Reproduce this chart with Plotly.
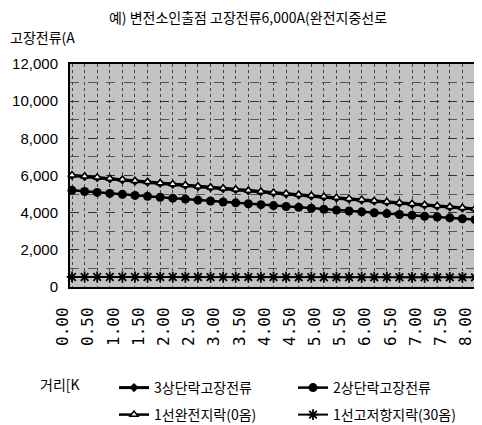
import plotly.graph_objects as go

distance_km = [0.00, 0.25, 0.50, 0.75, 1.00, 1.25, 1.50, 1.75, 2.00, 2.25, 2.50,
               2.75, 3.00, 3.25, 3.50, 3.75, 4.00, 4.25, 4.50, 4.75, 5.00, 5.25,
               5.50, 5.75, 6.00, 6.25, 6.50, 6.75, 7.00, 7.25, 7.50, 7.75, 8.00]

tick_vals = [0.0, 0.5, 1.0, 1.5, 2.0, 2.5, 3.0, 3.5, 4.0, 4.5, 5.0, 5.5, 6.0, 6.5, 7.0, 7.5, 8.0]
tick_text = ["0.00", "0.50", "1.00", "1.50", "2.00", "2.50", "3.00", "3.50", "4.00",
             "4.50", "5.00", "5.50", "6.00", "6.50", "7.00", "7.50", "8.00"]

three_phase = [6000, 5935, 5875, 5815, 5755, 5695, 5635, 5575, 5520, 5460, 5400,
               5345, 5285, 5230, 5170, 5115, 5060, 5000, 4945, 4890, 4835, 4780,
               4725, 4670, 4615, 4560, 4505, 4455, 4400, 4345, 4295, 4240, 4190]

two_phase = [5200, 5140, 5090, 5035, 4985, 4930, 4880, 4830, 4780, 4730, 4675,
             4630, 4575, 4530, 4480, 4430, 4380, 4330, 4285, 4235, 4185, 4140,
             4090, 4045, 3995, 3950, 3900, 3855, 3810, 3765, 3720, 3670, 3630]

slg_solid = [6020, 5960, 5900, 5840, 5780, 5720, 5660, 5600, 5540, 5485, 5425,
             5370, 5310, 5255, 5195, 5140, 5085, 5030, 4975, 4920, 4865, 4810,
             4755, 4700, 4645, 4590, 4535, 4480, 4425, 4370, 4320, 4265, 4215]

slg_30ohm = [540, 540, 539, 538, 538, 537, 536, 536, 535, 534, 534,
             533, 532, 532, 531, 530, 530, 529, 528, 528, 527, 526,
             526, 525, 524, 524, 523, 522, 522, 521, 520, 520, 519]

series_names = ["3상단락고장전류", "2상단락고장전류", "1선완전지락(0옴)", "1선고저항지락(30옴)"]

KFONT = "Noto Sans CJK KR"

fig = go.Figure()

fig.add_trace(go.Scatter(
    x=distance_km, y=three_phase, name=series_names[0], mode="lines+markers",
    line=dict(color="black", width=3),
    marker=dict(symbol="diamond", size=7, color="black"),
    cliponaxis=False, legend="legend"))
fig.add_trace(go.Scatter(
    x=distance_km, y=two_phase, name=series_names[1], mode="lines+markers",
    line=dict(color="black", width=2.5),
    marker=dict(symbol="circle", size=9, color="black"),
    cliponaxis=False, legend="legend"))
fig.add_trace(go.Scatter(
    x=distance_km, y=slg_solid, name=series_names[2], mode="lines+markers",
    line=dict(color="black", width=2.5),
    marker=dict(symbol="triangle-up", size=7, color="white", line=dict(color="black", width=1.5)),
    cliponaxis=False, legend="legend2"))
fig.add_trace(go.Scatter(
    x=distance_km, y=slg_30ohm, name=series_names[3], mode="lines+markers",
    line=dict(color="black", width=2),
    marker=dict(symbol="asterisk-open", size=9, color="black", line=dict(color="black", width=1.8)),
    cliponaxis=False, legend="legend2"))

# The page body adds an 8px margin, so the figure is drawn from (8, 8) of the window.
OFF = 8
FIG_W, FIG_H = 482 - OFF, 425 - OFF
# plot area in figure pixels
PX0, PX1, PY0, PY1 = 70 - OFF, 476 - OFF, 64 - OFF, 287 - OFF


def px_to_paper_x(px):
    return (px - OFF - PX0) / (PX1 - PX0)


def py_to_paper_y(py):
    return (PY1 - (py - OFF)) / (PY1 - PY0)


legend_common = dict(orientation="h", xanchor="left", yanchor="middle",
                     entrywidth=134, entrywidthmode="pixels",
                     font=dict(family=KFONT, size=14, color="black"),
                     bgcolor="rgba(0,0,0,0)", borderwidth=0)

fig.update_layout(
    width=FIG_W, height=FIG_H,
    margin=dict(l=PX0, r=FIG_W - PX1, t=PY0, b=FIG_H - PY1, autoexpand=False),
    paper_bgcolor="white",
    plot_bgcolor="#c2c2c2",
    font=dict(family=KFONT, size=14, color="black"),
    title=dict(text="예) 변전소인출점 고장전류6,000A(완전지중선로",
               x=(248 - OFF) / FIG_W, xanchor="center", xref="container",
               y=1 - (18 - OFF) / FIG_H, yanchor="middle", yref="container",
               font=dict(family=KFONT, size=14, color="black")),
    showlegend=True,
    legend=dict(x=px_to_paper_x(114), y=py_to_paper_y(388), **legend_common),
    legend2=dict(x=px_to_paper_x(114), y=py_to_paper_y(415), **legend_common),
    annotations=[
        dict(text="고장전류(A", x=px_to_paper_x(8), y=py_to_paper_y(37), xref="paper", yref="paper",
             xanchor="left", yanchor="middle", showarrow=False,
             font=dict(family=KFONT, size=14, color="black")),
        dict(text="거리[K", x=px_to_paper_x(38), y=py_to_paper_y(384), xref="paper", yref="paper",
             xanchor="left", yanchor="middle", showarrow=False,
             font=dict(family=KFONT, size=14, color="black")),
    ],
)

fig.update_xaxes(
    range=[-0.04, 8.02],
    tickmode="array", tickvals=tick_vals, ticktext=tick_text,
    tickangle=-90,
    tickfont=dict(family="DejaVu Sans Mono", size=16, color="black"),
    ticks="", ticklabelstandoff=12, ticklabelshift=-9,
    showgrid=True, gridcolor="#444444", gridwidth=1, griddash="dot",
    minor=dict(dtick=0.25, tick0=0, showgrid=True, gridcolor="#444444", gridwidth=1, griddash="dot"),
    showline=True, linecolor="black", linewidth=2, mirror=True,
    zeroline=False, automargin=False,
)
fig.update_yaxes(
    range=[0, 12000], dtick=2000, tick0=0,
    tickformat=",d",
    tickfont=dict(family="Liberation Sans", size=15, color="black"),
    ticks="", ticklabelstandoff=7,
    showgrid=True, gridcolor="#333333", gridwidth=1, griddash="dash",
    minor=dict(dtick=1000, tick0=0, showgrid=True, gridcolor="#555555", gridwidth=1, griddash="dash"),
    showline=True, linecolor="black", linewidth=2, mirror=True,
    zeroline=False, automargin=False,
)

fig.write_html("out.html")
